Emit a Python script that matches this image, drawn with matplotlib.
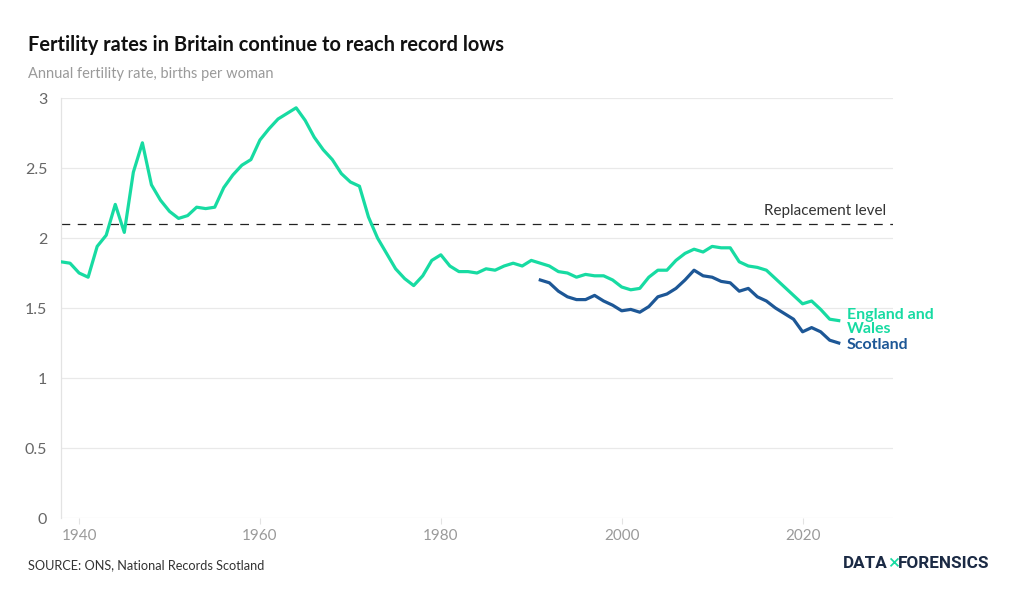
import numpy as np
import matplotlib
matplotlib.use('Agg')
import matplotlib.pyplot as plt

plt.rcParams['font.family'] = ['Lato', 'DejaVu Sans']

# --- Data: total fertility rate, births per woman ---
ew_years = list(range(1938, 2025))
ew_rate = [1.83, 1.82, 1.75, 1.72, 1.94, 2.02, 2.24, 2.04, 2.47, 2.68,
           2.38, 2.27, 2.19, 2.14, 2.16, 2.22, 2.21, 2.22, 2.36, 2.45,
           2.52, 2.56, 2.70, 2.78, 2.85, 2.89, 2.93, 2.84, 2.72, 2.63,
           2.56, 2.46, 2.40, 2.37, 2.15, 2.00, 1.89, 1.78, 1.71, 1.66,
           1.73, 1.84, 1.88, 1.80, 1.76, 1.76, 1.75, 1.78, 1.77, 1.80,
           1.82, 1.80, 1.84, 1.82, 1.80, 1.76, 1.75, 1.72, 1.74, 1.73,
           1.73, 1.70, 1.65, 1.63, 1.64, 1.72, 1.77, 1.77, 1.84, 1.89,
           1.92, 1.90, 1.94, 1.93, 1.93, 1.83, 1.80, 1.79, 1.77, 1.71,
           1.65, 1.59, 1.53, 1.55, 1.49, 1.42, 1.41]

sc_years = list(range(1991, 2025))
sc_rate = [1.70, 1.68, 1.62, 1.58, 1.56, 1.56, 1.59, 1.55, 1.52, 1.48,
           1.49, 1.47, 1.51, 1.58, 1.60, 1.64, 1.70, 1.77, 1.73, 1.72,
           1.69, 1.68, 1.62, 1.64, 1.58, 1.55, 1.50, 1.46, 1.42, 1.33,
           1.36, 1.33, 1.27, 1.25]

replacement = 2.1
x_ticks = [1940, 1960, 1980, 2000, 2020]
y_ticks = [0, 0.5, 1, 1.5, 2, 2.5, 3]

ew_color = '#17dba2'
sc_color = '#1d5796'

fig = plt.figure(figsize=(10.2, 6.06), dpi=100)
ax = fig.add_axes([61 / 1020, 1 - 518 / 606, (893 - 61) / 1020, (518 - 98) / 606])

ax.set_xlim(1938, 2030)
ax.set_ylim(0, 3)

for y in y_ticks:
    ax.axhline(y, color='#e9e9e9', linewidth=0.9, zorder=0)

ax.axhline(replacement, color='#222222', linewidth=0.9, dashes=(7, 6), zorder=1)
ax.text(2029.2, replacement + 0.04, 'Replacement level', ha='right', va='bottom',
        fontsize=11, color='#333333')

ax.plot(ew_years, ew_rate, color=ew_color, linewidth=2.3, solid_joinstyle='round', zorder=3)
ax.plot(sc_years, sc_rate, color=sc_color, linewidth=2.3, solid_joinstyle='round', zorder=3)

ax.text(2024.9, 1.40, 'England and\nWales', color=ew_color, fontsize=11.5, fontweight='bold',
        va='center', ha='left', linespacing=1.0)
ax.text(2024.9, 1.238, 'Scotland', color=sc_color, fontsize=11.5, fontweight='bold',
        va='center', ha='left')

for s in ['top', 'right', 'bottom']:
    ax.spines[s].set_visible(False)
ax.spines['left'].set_color('#e3e3e3')
ax.spines['left'].set_linewidth(0.9)

ax.set_xticks(x_ticks)
ax.set_yticks(y_ticks)
ax.set_yticklabels(['0', '0.5', '1', '1.5', '2', '2.5', '3'])
ax.tick_params(axis='x', length=4, width=0.8, color='#e3e3e3', labelsize=11,
               labelcolor='#9a9a9a', pad=4)
ax.tick_params(axis='y', length=0, labelsize=11.5, labelcolor='#666666', pad=10)

fig.text(28 / 1020, 1 - 45 / 606, 'Fertility rates in Britain continue to reach record lows',
         fontsize=14.4, fontweight='bold', color='#111111', va='center', ha='left')
fig.text(28 / 1020, 1 - 74 / 606, 'Annual fertility rate, births per woman',
         fontsize=10.5, color='#9a9a9a', va='center', ha='left')
fig.text(28 / 1020, 1 - 565 / 606, 'SOURCE: ONS, National Records Scotland',
         fontsize=9.2, color='#333333', va='center', ha='left')

# logo
logo_font = ['Roboto', 'DejaVu Sans']
fig.text(888 / 1020, 1 - 564 / 606, 'DATA', fontsize=12.3, fontweight='bold', color='#1b2a44',
         va='center', ha='right', family=logo_font)
fig.text(893.5 / 1020, 1 - 564 / 606, '×', fontsize=15, color=ew_color,
         va='center', ha='center', family=logo_font)
fig.text(898 / 1020, 1 - 564 / 606, 'FORENSICS', fontsize=12.3, fontweight='bold', color='#1b2a44',
         va='center', ha='left', family=logo_font)

fig.savefig('out.png', dpi=100)
